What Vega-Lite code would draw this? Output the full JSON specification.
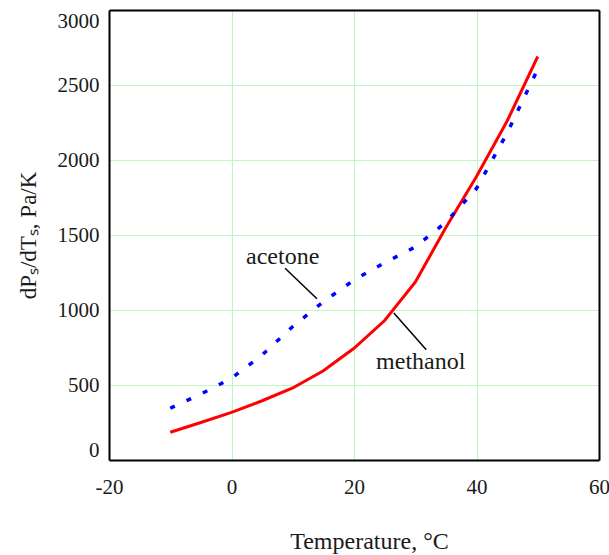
{
  "$schema": "https://vega.github.io/schema/vega-lite/v6.json",
  "width": 490,
  "height": 450,
  "autosize": "none",
  "padding": {"left": 109, "top": 10, "right": 10, "bottom": 95},
  "background": "white",
  "config": {
    "font": "Liberation Serif",
    "view": {"stroke": null},
    "axis": {
      "domainColor": "#000000",
      "domainWidth": 2,
      "ticks": false,
      "gridColor": "#bff5bf",
      "gridWidth": 1,
      "labelFont": "Liberation Serif",
      "labelFontSize": 21,
      "labelColor": "#1a1a1a",
      "titleFont": "Liberation Serif",
      "titleFontWeight": "normal",
      "titleColor": "#1a1a1a"
    }
  },
  "resolve": {"axis": {"x": "independent", "y": "independent"}},
  "layer": [
    {
      "data": {
        "values": [
          {"series": "methanol", "T": -10, "v": 185},
          {"series": "methanol", "T": -5, "v": 250},
          {"series": "methanol", "T": 0, "v": 318},
          {"series": "methanol", "T": 5, "v": 395},
          {"series": "methanol", "T": 10, "v": 480},
          {"series": "methanol", "T": 15, "v": 595},
          {"series": "methanol", "T": 20, "v": 745},
          {"series": "methanol", "T": 25, "v": 930},
          {"series": "methanol", "T": 30, "v": 1185},
          {"series": "methanol", "T": 35, "v": 1550},
          {"series": "methanol", "T": 40, "v": 1890},
          {"series": "methanol", "T": 45, "v": 2260},
          {"series": "methanol", "T": 50, "v": 2690}
        ]
      },
      "mark": {"type": "line", "color": "#ff0000", "strokeWidth": 3},
      "encoding": {
        "x": {
          "field": "T", "type": "quantitative",
          "scale": {"domain": [-20, 60], "nice": false},
          "axis": {
            "orient": "bottom",
            "grid": false,
            "values": [-20, 0, 20, 40, 60],
            "labelExpr": "toString(datum.value)",
            "labelFont": "Liberation Serif",
            "labelFlush": false,
            "labelBaseline": "alphabetic",
            "labelPadding": 33,
            "title": "Temperature, °C",
            "titleFontSize": 24,
            "titleBaseline": "alphabetic",
            "titleAnchor": "start",
            "titleAlign": "center",
            "titleX": 260,
            "titleY": 88
          }
        },
        "y": {
          "field": "v", "type": "quantitative",
          "scale": {"domain": [0, 3000], "nice": false},
          "axis": {
            "orient": "left",
            "grid": false,
            "values": [0, 500, 1000, 1500, 2000, 2500, 3000],
            "labelExpr": "toString(datum.value)",
            "labelFont": "Liberation Serif",
            "labelPadding": 10,
            "labelFlush": true,
            "title": "dPₛ/dTₛ, Pa/K",
            "titleFontSize": 23,
            "titleAngle": -90,
            "titleBaseline": "alphabetic",
            "titleAlign": "center",
            "titleX": -74,
            "titleY": 225
          }
        }
      }
    },
    {
      "data": {
        "values": [
          {"series": "acetone", "T": -10, "v": 345},
          {"series": "acetone", "T": -5, "v": 440},
          {"series": "acetone", "T": 0, "v": 545},
          {"series": "acetone", "T": 5, "v": 700},
          {"series": "acetone", "T": 10, "v": 890},
          {"series": "acetone", "T": 15, "v": 1055},
          {"series": "acetone", "T": 20, "v": 1200},
          {"series": "acetone", "T": 25, "v": 1315},
          {"series": "acetone", "T": 30, "v": 1420},
          {"series": "acetone", "T": 35, "v": 1585},
          {"series": "acetone", "T": 40, "v": 1810},
          {"series": "acetone", "T": 45, "v": 2180},
          {"series": "acetone", "T": 50, "v": 2605}
        ]
      },
      "mark": {"type": "line", "color": "#0000ff", "strokeWidth": 3.5, "strokeDash": [5, 13], "strokeCap": "butt"},
      "encoding": {
        "x": {
          "field": "T", "type": "quantitative",
          "axis": {
            "orient": "top",
            "grid": true,
            "values": [0, 20, 40],
            "labels": false,
            "title": null
          }
        },
        "y": {
          "field": "v", "type": "quantitative",
          "axis": {
            "orient": "right",
            "grid": true,
            "values": [500, 1000, 1500, 2000, 2500],
            "labels": false,
            "title": null
          }
        }
      }
    },
    {
      "data": {
        "values": [
          {"T": 8.75, "v": 1278, "T2": 13.95, "v2": 1075},
          {"T": 26.5, "v": 980, "T2": 31.8, "v2": 735}
        ]
      },
      "mark": {"type": "rule", "color": "#000000", "strokeWidth": 1.5},
      "encoding": {
        "x": {"field": "T", "type": "quantitative", "axis": null},
        "y": {"field": "v", "type": "quantitative", "axis": null},
        "x2": {"field": "T2"},
        "y2": {"field": "v2"}
      }
    },
    {
      "data": {
        "values": [
          {"label": "acetone", "T": 8.36, "v": 1351},
          {"label": "methanol", "T": 30.9, "v": 651}
        ]
      },
      "mark": {"type": "text", "font": "Liberation Serif", "fontSize": 24, "color": "#1a1a1a", "align": "center", "baseline": "middle"},
      "encoding": {
        "x": {"field": "T", "type": "quantitative", "axis": null},
        "y": {"field": "v", "type": "quantitative", "axis": null},
        "text": {"field": "label"}
      }
    }
  ]
}
